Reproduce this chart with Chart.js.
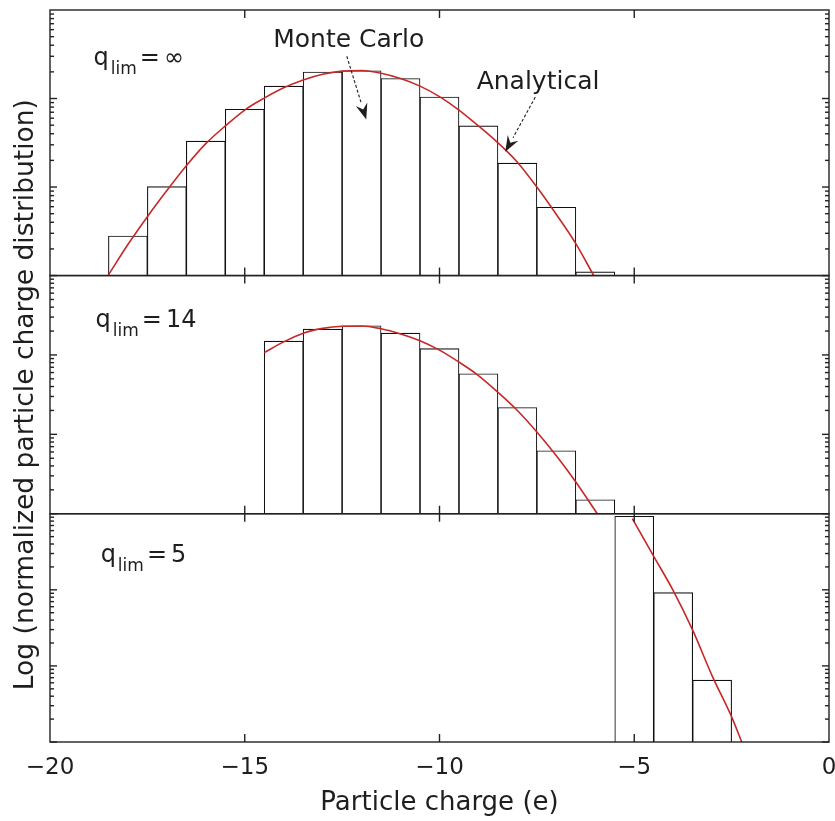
<!DOCTYPE html>
<html>
<head>
<meta charset="utf-8">
<script src="https://cdn.jsdelivr.net/npm/chart.js@4/dist/chart.umd.min.js"></script>
<style>
  html, body { margin: 0; padding: 0; background: #fff; }
  #wrap { width: 835px; height: 821px; }
</style>
</head>
<body>
<div id="wrap"><canvas id="chart" width="835" height="821"></canvas></div>
<script>
// histogram bins (particle charge, e) and normalized fractions
const chargesInf = [-18, -17, -16, -15, -14, -13, -12, -11, -10, -9, -8, -7, -6];
const mcInf = [0.0028, 0.0101, 0.033, 0.0755, 0.138, 0.199, 0.206, 0.168, 0.104, 0.049, 0.0186, 0.0059, 0.0011];

const charges14 = [-14, -13, -12, -11, -10, -9, -8, -7, -6];
const mc14 = [0.149, 0.211, 0.233, 0.188, 0.120, 0.058, 0.0218, 0.0062, 0.0015];

const charges5 = [-5, -4, -3];
const mc5 = [0.925, 0.0918, 0.0065];

// analytical curves
const curveInfQ = [-18.51, -18, -17.5, -17, -16.5, -16, -15.5, -15, -14.5, -14, -13.5, -13, -12.5, -12, -11.5, -11, -10.5, -10, -9.5, -9, -8.5, -8, -7.5, -7, -6.5, -6.04];
const curveInfP = [0.001, 0.00224, 0.00462, 0.00912, 0.0174, 0.0309, 0.049, 0.0741, 0.101, 0.132, 0.162, 0.188, 0.204, 0.207, 0.193, 0.168, 0.138, 0.105, 0.0741, 0.049, 0.0316, 0.0191, 0.01, 0.0049, 0.00229, 0.001];

const curve14Q = [-14.5, -14, -13.5, -13, -12.5, -12, -11.5, -11, -10.5, -10, -9.5, -9, -8.5, -8, -7.5, -7, -6.5, -5.95];
const curve14P = [0.107, 0.146, 0.188, 0.216, 0.230, 0.232, 0.214, 0.184, 0.151, 0.115, 0.0813, 0.055, 0.0339, 0.02, 0.0107, 0.00537, 0.00251, 0.001];

const curve5Q = [-5.05, -4.5, -4, -3.5, -3, -2.5, -2.24];
const curve5P = [0.861, 0.275, 0.0977, 0.0295, 0.00741, 0.00214, 0.001];

const panelLabels = ['\u221e', '14', '5'];
const xTicks = [-20, -15, -10, -5, 0];

const FONT = '"DejaVu Sans", sans-serif';
const RED = '#c62828';
const INK = '#1e1e1e';

const pts = (xs, ys) => xs.map((x, i) => ({ x: x, y: ys[i] }));

function barSet(xs, ys, axis) {
    return {
        type: 'bar',
        data: pts(xs, ys),
        yAxisID: axis,
        grouped: false,
        barPercentage: 1,
        categoryPercentage: 1,
        backgroundColor: '#fff',
        borderColor: '#111',
        borderWidth: 1.1,
        order: 2
    };
}

function curveSet(xs, ys, axis) {
    return {
        type: 'line',
        data: pts(xs, ys),
        yAxisID: axis,
        borderColor: RED,
        borderWidth: 1.6,
        pointRadius: 0,
        cubicInterpolationMode: 'monotone',
        order: 1
    };
}

function logAxis(weight, showTitle) {
    return {
        type: 'logarithmic',
        position: 'left',
        stack: 'panels',
        stackWeight: weight,
        min: 0.001,
        max: 1,
        ticks: { display: false },
        grid: { display: false },
        border: { display: false },
        title: {
            display: showTitle,
            text: 'Log (normalized particle charge distribution)',
            color: INK,
            font: { family: FONT, size: 26.5 },
            padding: { top: 10, bottom: 0 }
        },
        afterFit: (s) => { s.width = 50; }
    };
}

function line(ctx, x1, y1, x2, y2) {
    ctx.beginPath();
    ctx.moveTo(x1, y1);
    ctx.lineTo(x2, y2);
    ctx.stroke();
}

function arrow(ctx, x1, y1, x2, y2) {
    const ang = Math.atan2(y2 - y1, x2 - x1);
    const head = 16, half = 6;
    const bx = x2 - head * Math.cos(ang), by = y2 - head * Math.sin(ang);
    ctx.save();
    ctx.lineWidth = 1.1;
    ctx.setLineDash([3, 2]);
    line(ctx, x1, y1, bx, by);
    ctx.setLineDash([]);
    ctx.beginPath();
    ctx.moveTo(x2, y2);
    ctx.lineTo(bx + half * Math.sin(ang), by - half * Math.cos(ang));
    ctx.lineTo(bx + 0.35 * head * Math.cos(ang), by + 0.35 * head * Math.sin(ang));
    ctx.lineTo(bx - half * Math.sin(ang), by + half * Math.cos(ang));
    ctx.closePath();
    ctx.fill();
    ctx.restore();
}

function qLabel(ctx, x, y, val) {
    ctx.textBaseline = 'alphabetic';
    ctx.textAlign = 'left';
    ctx.font = '24px ' + FONT;
    ctx.fillText('q', x, y);
    let cx = x + ctx.measureText('q').width + 2;
    ctx.font = '17px ' + FONT;
    ctx.fillText('lim', cx, y + 9);
    cx += ctx.measureText('lim').width + 3;
    ctx.font = '24px ' + FONT;
    ctx.fillText('=', cx, y);
    cx += ctx.measureText('=').width + 4;
    ctx.fillText(val, cx, y);
}

const framePlugin = {
    id: 'frame',
    afterDatasetsDraw(chart) {
        const ctx = chart.ctx;
        const xs = chart.scales.x;
        ctx.save();
        ctx.strokeStyle = '#222';
        ctx.lineWidth = 1.4;
        ['y1', 'y2', 'y3'].forEach((id) => {
            const ys = chart.scales[id];
            ctx.strokeRect(xs.left, ys.top, xs.right - xs.left, ys.bottom - ys.top);
            for (let e = -3; e < 0; e++) {
                for (let m = 1; m < 10; m++) {
                    const py = ys.getPixelForValue(m * Math.pow(10, e));
                    const len = m === 1 ? 7 : 4;
                    line(ctx, xs.left, py, xs.left + len, py);
                    line(ctx, xs.right, py, xs.right - len, py);
                }
            }
            xTicks.slice(1, -1).forEach((v) => {
                const px = xs.getPixelForValue(v);
                line(ctx, px, ys.bottom, px, ys.bottom - 8);
                line(ctx, px, ys.top, px, ys.top + 8);
            });
        });
        ctx.restore();
    },
    afterDraw(chart) {
        const ctx = chart.ctx;
        const xs = chart.scales.x;
        const y1 = chart.scales.y1, y2 = chart.scales.y2, y3 = chart.scales.y3;
        const X = (v) => xs.getPixelForValue(v);
        ctx.save();
        ctx.fillStyle = INK;
        ctx.strokeStyle = INK;
        qLabel(ctx, X(-18.88), y1.getPixelForValue(0.239), panelLabels[0]);
        qLabel(ctx, X(-18.83), y2.getPixelForValue(0.224), panelLabels[1]);
        qLabel(ctx, X(-18.70), y3.getPixelForValue(0.232), panelLabels[2]);

        ctx.font = '25px ' + FONT;
        ctx.textAlign = 'center';
        ctx.textBaseline = 'middle';
        ctx.fillText('Monte Carlo', X(-12.33), y1.getPixelForValue(0.457));
        ctx.fillText('Analytical', X(-7.47), y1.getPixelForValue(0.153));

        arrow(ctx, X(-12.38), y1.getPixelForValue(0.30), X(-11.88), y1.getPixelForValue(0.058));
        arrow(ctx, X(-7.54), y1.getPixelForValue(0.104), X(-8.31), y1.getPixelForValue(0.025));
        ctx.restore();
    }
};

new Chart(document.getElementById('chart'), {
    type: 'bar',
    data: {
        datasets: [
            curveSet(curveInfQ, curveInfP, 'y1'),
            curveSet(curve14Q, curve14P, 'y2'),
            curveSet(curve5Q, curve5P, 'y3'),
            barSet(chargesInf, mcInf, 'y1'),
            barSet(charges14, mc14, 'y2'),
            barSet(charges5, mc5, 'y3')
        ]
    },
    options: {
        responsive: false,
        animation: false,
        layout: { padding: { top: 10, right: 6, left: 0, bottom: 0 } },
        plugins: {
            legend: { display: false },
            tooltip: { enabled: false }
        },
        scales: {
            x: {
                type: 'linear',
                min: -20,
                max: 0,
                offset: false,
                ticks: {
                    stepSize: 5,
                    color: INK,
                    padding: 12,
                    maxRotation: 0,
                    font: { family: FONT, size: 23 },
                    callback: (v) => String(v).replace('-', '\u2212')
                },
                grid: { display: false, drawTicks: false, offset: false },
                border: { display: false },
                title: {
                    display: true,
                    text: 'Particle charge (e)',
                    color: INK,
                    font: { family: FONT, size: 26 },
                    padding: { top: 0, bottom: 2 }
                },
                afterFit: (s) => {
                    s.height = 79;
                    s.paddingLeft = 0;
                    s.paddingRight = 0;
                }
            },
            // stacked panels: last defined is drawn on top
            y3: logAxis(228.4, false),
            y2: logAxis(238.3, true),
            y1: logAxis(265.7, false)
        }
    },
    plugins: [framePlugin]
});
</script>
</body>
</html>
